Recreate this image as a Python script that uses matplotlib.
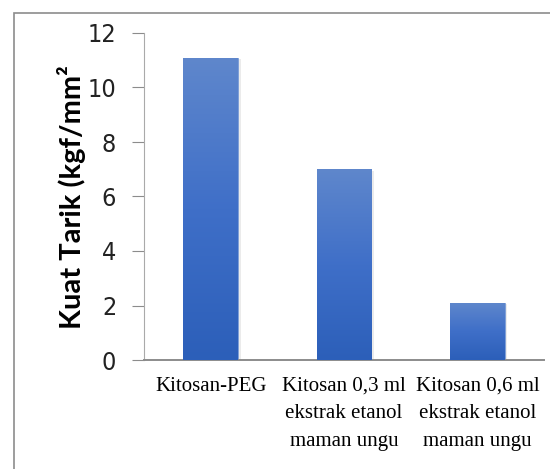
import numpy as np
import matplotlib
matplotlib.use("Agg")
import matplotlib.pyplot as plt
from matplotlib.patches import Rectangle
from matplotlib import font_manager

categories = ["Kitosan-PEG",
              "Kitosan 0,3 ml\nekstrak etanol\nmaman ungu",
              "Kitosan 0,6 ml\nekstrak etanol\nmaman ungu"]
values = [11.1, 7.0, 2.1]
yticks = [0, 2, 4, 6, 8, 10, 12]

# narrow sans for the tick numbers if there is one
cond = font_manager.FontProperties(family="DejaVu Sans", stretch="condensed")
cond_file = font_manager.findfont(cond, fallback_to_default=False)
if "Condensed" in cond_file:
    tick_kw = dict(fontproperties=font_manager.FontProperties(fname=cond_file, size=18))
else:
    tick_kw = dict(fontsize=18, family="Lato")

W, H = 550, 469
fig = plt.figure(figsize=(W / 100, H / 100), dpi=100)
fig.patch.set_facecolor("white")

# outer chart border (cut off at right/bottom like the reference)
fig.add_artist(Rectangle((14 / W, -0.05), 1.2, (H - 13) / H + 0.05,
                         transform=fig.transFigure, fill=False,
                         edgecolor="#8c8c8c", linewidth=1.2))

ax = fig.add_axes([144 / W, (H - 360) / H, 400 / W, 327 / H])
x = np.arange(len(categories))
bars = ax.bar(x, values, width=0.41, color="#3a6bc4", edgecolor="#7d9fd8",
              linewidth=0.6, zorder=2)

# vertical gradient fill, lighter at top
grad = np.linspace(0, 1, 256).reshape(-1, 1)
cmap = matplotlib.colors.LinearSegmentedColormap.from_list(
    "g", ["#2c5fb9", "#3f6fc8", "#5f87cc"])
for b in bars:
    x0, y0 = b.get_x(), b.get_y()
    # soft shadow to the right
    ax.add_patch(Rectangle((x0 + 0.02, y0), b.get_width(), b.get_height() - 0.05,
                           color="#000000", alpha=0.08, zorder=1, linewidth=0))
    im = ax.imshow(grad, extent=[x0, x0 + b.get_width(), y0, y0 + b.get_height()],
                   origin="lower", cmap=cmap, aspect="auto", zorder=3)
    im.set_clip_path(b)

ax.set_xlim(-0.5, 2.5)
ax.set_ylim(0, 12)
ax.set_yticks(yticks)
ax.set_yticklabels([str(v) for v in yticks], color="#222222", **tick_kw)
ax.set_xticks(x)
ax.set_xticklabels(categories, fontsize=15, family="Liberation Serif",
                   linespacing=1.62, va="top")
ax.tick_params(axis="x", length=0, pad=12)
ax.tick_params(axis="y", length=9, width=0.8, color="#8c8c8c", pad=11)

for s in ["top", "right"]:
    ax.spines[s].set_visible(False)
ax.spines["left"].set_color("#aaaaaa")
ax.spines["bottom"].set_color("#8c8c8c")
ax.spines["bottom"].set_linewidth(1.4)

fig.text(72 / W, 1 - 197 / H, "Kuat Tarik (kgf/mm\u00b2", rotation=90,
         ha="center", va="center", fontsize=21, fontweight="bold", family="Lato")

fig.savefig("out.png", dpi=100)
